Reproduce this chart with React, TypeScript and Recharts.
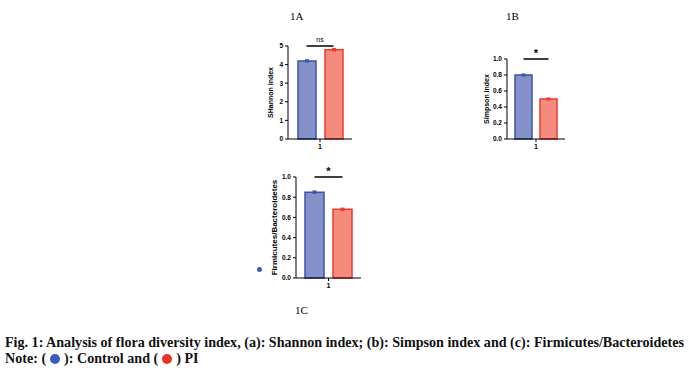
import React from 'react'
import { BarChart, Bar, XAxis, YAxis, ErrorBar, ReferenceLine } from 'recharts'

// values
const categories = ['1']
const shannonControl = [4.2]
const shannonPI = [4.8]
const shannonControlErr = [0.05]
const shannonPIErr = [0.06]
const simpsonControl = [0.8]
const simpsonPI = [0.5]
const simpsonControlErr = [0.01]
const simpsonPIErr = [0.01]
const fbControl = [0.85]
const fbPI = [0.68]
const fbControlErr = [0.01]
const fbPIErr = [0.01]

const shannonTicks = [0, 1, 2, 3, 4, 5]
const ratioTicks = [0, 0.2, 0.4, 0.6, 0.8, 1.0]

const BLUE_FILL = '#8592c9'
const BLUE_LINE = '#3b53a9'
const RED_FILL = '#f58b7d'
const RED_LINE = '#ee3b2f'

const makeRows = (c: number[], p: number[], ce: number[], pe: number[]) =>
  categories.map((name, i) => ({ name, control: c[i], pi: p[i], controlErr: ce[i], piErr: pe[i] }))

const axisFont = { fontFamily: 'Liberation Sans, Arial, sans-serif', fontWeight: 'bold', fill: '#000' }

type PanelProps = {
  left: number
  top: number
  width: number
  height: number
  marginTop: number
  yWidth: number
  rows: any[]
  domain: [number, number]
  ticks: number[]
  decimals: number
  yLabel: string
  labelSize: number
  labelOffset: number
  barSize: number
  barGap: number
  sig: string
  sigY: number
}

function Panel(p: PanelProps) {
  // short bracket between the two bar centres, with its mark above
  const sigShape = (props: any) => {
    const mid = (props.x1 + props.x2) / 2
    const half = (p.barGap + p.barSize) / 2
    const y = props.y1
    const isStar = p.sig === '*'
    return (
      <g>
        <line x1={mid - half} x2={mid + half} y1={y} y2={y} stroke="#000" strokeWidth={1.5} />
        <text
          x={mid}
          y={isStar ? y - 2 : y - 4}
          textAnchor="middle"
          fontSize={isStar ? 11 : 7}
          fontWeight={isStar ? 'bold' : 'normal'}
          fontFamily="Liberation Sans, Arial, sans-serif"
          fill="#000"
        >
          {p.sig}
        </text>
      </g>
    )
  }

  return (
    <div style={{ position: 'absolute', left: p.left, top: p.top }}>
      <BarChart
        width={p.width}
        height={p.height}
        data={p.rows}
        margin={{ top: p.marginTop, right: 8, bottom: 0, left: 0 }}
        barSize={p.barSize}
        barGap={p.barGap}
      >
        <XAxis
          dataKey="name"
          tickSize={3}
          height={20}
          stroke="#000"
          tickLine={{ stroke: '#000' }}
          tick={{ ...axisFont, fontSize: 7 }}
        />
        <YAxis
          width={p.yWidth}
          domain={p.domain}
          ticks={p.ticks}
          interval={0}
          tickSize={3}
          stroke="#000"
          tickLine={{ stroke: '#000' }}
          tick={{ ...axisFont, fontSize: 6.5 }}
          tickFormatter={(v: number) => v.toFixed(p.decimals)}
          label={{
            value: p.yLabel,
            angle: -90,
            position: 'insideLeft',
            offset: p.labelOffset,
            style: { textAnchor: 'middle', fontSize: p.labelSize, ...axisFont },
          }}
        />
        <Bar dataKey="control" fill={BLUE_FILL} stroke={BLUE_LINE} strokeWidth={1.5} isAnimationActive={false}>
          <ErrorBar dataKey="controlErr" width={2} stroke={BLUE_LINE} strokeWidth={1.5} />
        </Bar>
        <Bar dataKey="pi" fill={RED_FILL} stroke={RED_LINE} strokeWidth={1.5} isAnimationActive={false}>
          <ErrorBar dataKey="piErr" width={2} stroke={RED_LINE} strokeWidth={1.5} />
        </Bar>
        <ReferenceLine y={p.sigY} ifOverflow="visible" shape={sigShape} />
      </BarChart>
    </div>
  )
}

const serif = 'Liberation Serif, Times New Roman, serif'

const Dot = ({ color }: { color: string }) => (
  <span
    style={{
      display: 'inline-block',
      width: 10,
      height: 10,
      borderRadius: '50%',
      background: color,
      verticalAlign: -1,
      margin: '0 4px',
    }}
  />
)

export default function App() {
  return (
    <div style={{ position: 'absolute', left: 0, top: 0, width: 689, height: 373, background: '#fff', overflow: 'hidden' }}>
      <div style={{ position: 'absolute', left: 290, top: 11, fontFamily: serif, fontSize: 11, lineHeight: '11px' }}>1A</div>
      <div style={{ position: 'absolute', left: 506, top: 11, fontFamily: serif, fontSize: 11, lineHeight: '11px' }}>1B</div>
      <div style={{ position: 'absolute', left: 295, top: 305, fontFamily: serif, fontSize: 11, lineHeight: '11px' }}>1C</div>

      <Panel
        left={250}
        top={0}
        width={110}
        height={159}
        marginTop={46}
        yWidth={38}
        rows={makeRows(shannonControl, shannonPI, shannonControlErr, shannonPIErr)}
        domain={[0, 5]}
        ticks={shannonTicks}
        decimals={0}
        yLabel="SHannon index"
        labelSize={7}
        labelOffset={21}
        barSize={18}
        barGap={9}
        sig="ns"
        sigY={5}
      />
      <Panel
        left={466}
        top={0}
        width={107}
        height={159}
        marginTop={59}
        yWidth={41}
        rows={makeRows(simpsonControl, simpsonPI, simpsonControlErr, simpsonPIErr)}
        domain={[0, 1]}
        ticks={ratioTicks}
        decimals={1}
        yLabel="Simpson index"
        labelSize={7}
        labelOffset={21}
        barSize={17}
        barGap={8}
        sig="*"
        sigY={1}
      />
      <Panel
        left={250}
        top={160}
        width={119}
        height={138}
        marginTop={17}
        yWidth={46}
        rows={makeRows(fbControl, fbPI, fbControlErr, fbPIErr)}
        domain={[0, 1]}
        ticks={ratioTicks}
        decimals={1}
        yLabel="Firmicutes/Bacteroidetes"
        labelSize={8}
        labelOffset={24}
        barSize={19}
        barGap={9}
        sig="*"
        sigY={1}
      />

      <div
        style={{
          position: 'absolute',
          left: 257,
          top: 267,
          width: 5,
          height: 5,
          borderRadius: '50%',
          background: '#3c5bbf',
        }}
      />

      <div
        style={{
          position: 'absolute',
          left: 5,
          top: 334,
          fontFamily: serif,
          fontWeight: 'bold',
          fontSize: 14.1,
          lineHeight: '16px',
          whiteSpace: 'nowrap',
          color: '#111',
        }}
      >
        <div>Fig. 1: Analysis of flora diversity index, (a): Shannon index; (b): Simpson index and (c): Firmicutes/Bacteroidetes</div>
        <div>
          Note: (<Dot color="#3c5bbf" />): Control and (<Dot color="#e8332a" />) PI
        </div>
      </div>
    </div>
  )
}
